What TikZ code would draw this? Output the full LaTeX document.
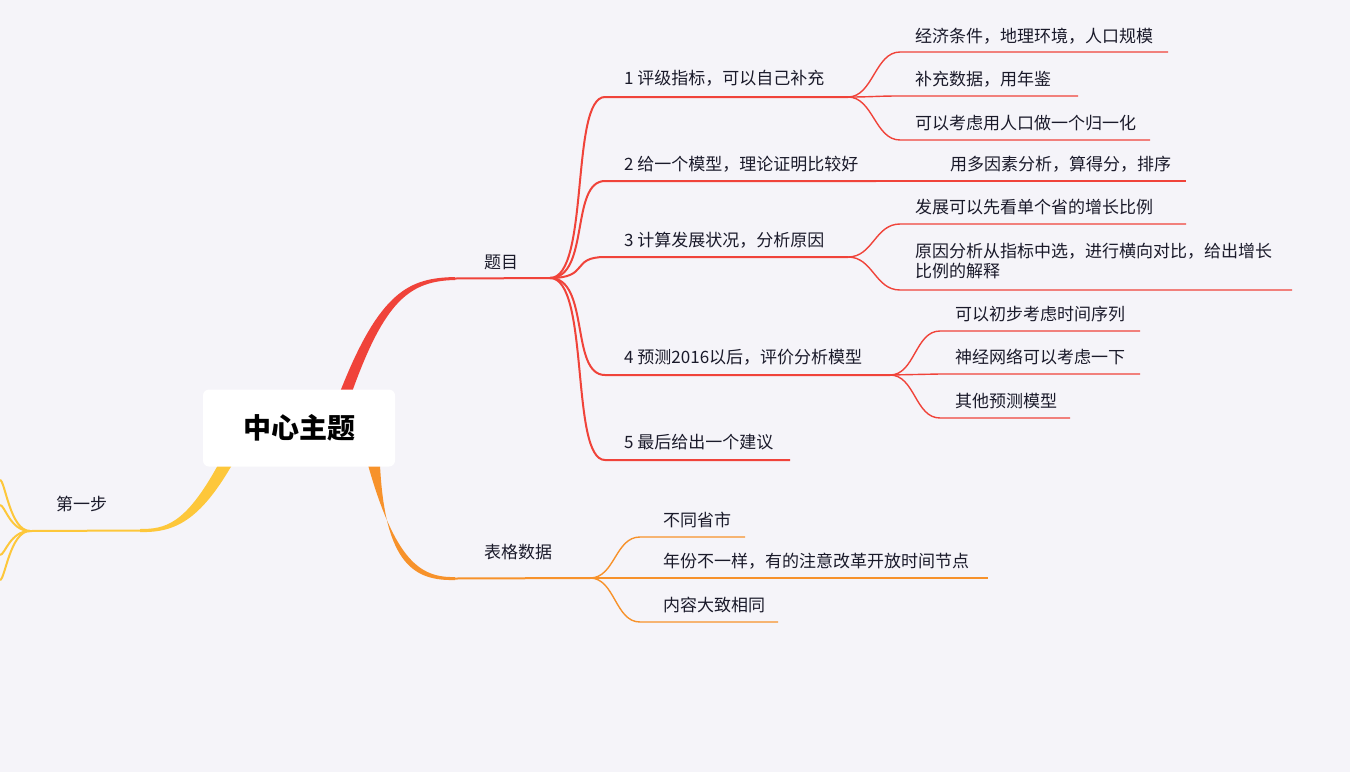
\documentclass[tikz,border=0pt]{standalone}
\usepackage{fontspec}
\setmainfont{Noto Sans CJK SC}
\definecolor{bgcol}{HTML}{F5F4F9}
\definecolor{redb}{HTML}{F0433A}
\definecolor{orab}{HTML}{F7922B}
\definecolor{yelb}{HTML}{FDC73B}
\definecolor{txt}{HTML}{1A1A2A}
\tikzstyle{topic} = [anchor=south west, inner sep=0pt, text=txt, font=\fontsize{17}{21}\selectfont]
\tikzstyle{twig} = [line width=1.4pt]
\newcommand{\leaf}[5]{% color, from, x, y, endx
  \draw[twig,#1] (#2) .. controls +(25,0) and +(-25,0) .. (#3,#4) -- (#5,#4);}
\begin{document}
\begin{tikzpicture}[x=1pt,y=-1pt]
    \fill[bgcol] (0,0) rectangle (1350,772);
    \useasboundingbox (0,0) rectangle (1350,772);
    % main branches
    \fill[redb] (340,392) .. controls (380,290) and (410,278) .. (455,277) -- (455,280) .. controls (410,281) and (385,300) .. (352,392) -- cycle;
    \fill[orab] (368,465) .. controls (395,560) and (420,578) .. (455,577) -- (455,580) .. controls (415,581) and (385,565) .. (380,465) -- cycle;
    \fill[yelb] (218,465) .. controls (185,525) and (165,529) .. (140,529) -- (140,532) .. controls (175,533) and (200,520) .. (232,465) -- cycle;
    \coordinate (Topic) at (550,278);
    \coordinate (Table) at (590,578);
    \coordinate (Step) at (30,531);
    \draw[line width=2pt,redb] (455,278.5) -- (Topic);
    \draw[line width=2pt,orab] (455,578.5) -- (Table);
    \draw[line width=2pt,yelb] (140,530.5) -- (Step);
    \node (Center) at (299,428) [fill=white, rounded corners=6pt, minimum width=192pt, minimum height=77pt, font=\fontsize{28}{32}\selectfont\bfseries] {中心主题};
    \node (TopicT) at (484,262) [topic, anchor=west] {题目};
    \node (TableT) at (484,552) [topic, anchor=west] {表格数据};
    \node (StepT) at (56,504) [topic, anchor=west] {第一步};
    % yellow twigs off the left edge
    \foreach \y in {480,505,555,580}
        \draw[line width=2pt,yelb] (Step) .. controls (10,531) and (5,\y) .. (0,\y);
    % second level, red
    \foreach \y/\e/\n in {97/848/A, 181/876/B, 257/848/C, 375/890/D, 460/790/E}{
        \draw[line width=2pt,redb] (Topic) .. controls (590,278) and (570,\y) .. (605,\y) -- (\e,\y);
        \coordinate (R\n) at (\e,\y);}
    \node at (624,78) [topic, anchor=west] {1 评级指标，可以自己补充};
    \node at (624,164) [topic, anchor=west] {2 给一个模型，理论证明比较好};
    \node at (624,240) [topic, anchor=west] {3 计算发展状况，分析原因};
    \node at (624,357) [topic, anchor=west] {4 预测2016以后，评价分析模型};
    \node at (624,442) [topic, anchor=west] {5 最后给出一个建议};
    % leaves, red
    \leaf{redb}{RA}{900}{52}{1168}
    \leaf{redb}{RA}{900}{96}{1078}
    \leaf{redb}{RA}{900}{140}{1150}
    \draw[twig,redb] (RB) -- (1186,181);
    \leaf{redb}{RC}{900}{224}{1186}
    \leaf{redb}{RC}{900}{290}{1292}
    \leaf{redb}{RD}{940}{331}{1140}
    \leaf{redb}{RD}{940}{374}{1140}
    \leaf{redb}{RD}{940}{418}{1070}
    \node at (915,36) [topic, anchor=west] {经济条件，地理环境，人口规模};
    \node at (915,79) [topic, anchor=west] {补充数据，用年鉴};
    \node at (915,123) [topic, anchor=west] {可以考虑用人口做一个归一化};
    \node at (950,164) [topic, anchor=west] {用多因素分析，算得分，排序};
    \node at (915,207) [topic, anchor=west] {发展可以先看单个省的增长比例};
    \node at (915,251) [topic, anchor=west] {原因分析从指标中选，进行横向对比，给出增长};
    \node at (915,271) [topic, anchor=west] {比例的解释};
    \node at (955,314) [topic, anchor=west] {可以初步考虑时间序列};
    \node at (955,357) [topic, anchor=west] {神经网络可以考虑一下};
    \node at (955,401) [topic, anchor=west] {其他预测模型};
    % leaves, orange
    \leaf{orab}{Table}{640}{537}{745}
    \draw[twig,orab] (Table) -- (988,578);
    \leaf{orab}{Table}{640}{622}{778}
    \node at (663,520) [topic, anchor=west] {不同省市};
    \node at (663,561) [topic, anchor=west] {年份不一样，有的注意改革开放时间节点};
    \node at (663,605) [topic, anchor=west] {内容大致相同};
\end{tikzpicture}
\end{document}
